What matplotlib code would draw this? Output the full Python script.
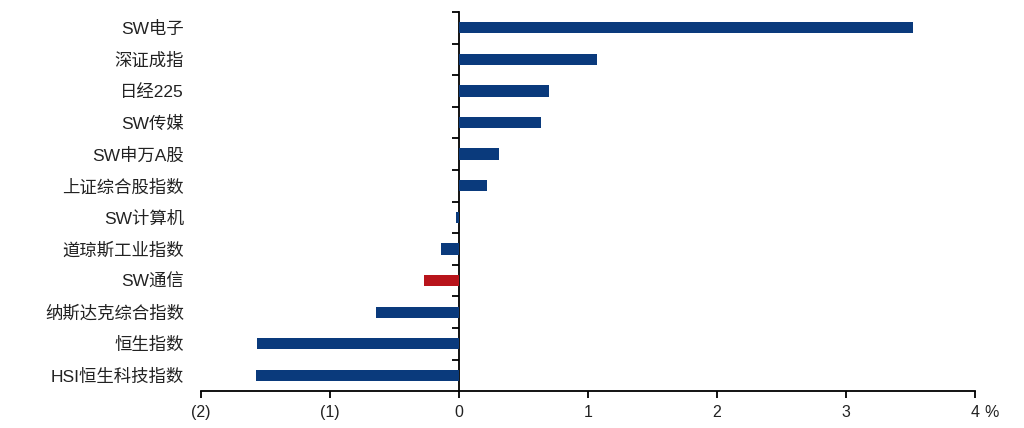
import numpy as np
import matplotlib.pyplot as plt

plt.rcParams['font.family'] = ['Liberation Sans', 'Noto Sans CJK SC', 'DejaVu Sans']

names = ['SW电子', '深证成指', '日经225', 'SW传媒', 'SW申万A股', '上证综合股指数',
         'SW计算机', '道琼斯工业指数', 'SW通信', '纳斯达克综合指数', '恒生指数', 'HSI恒生科技指数']
values = [3.52, 1.07, 0.70, 0.64, 0.31, 0.22, -0.02, -0.14, -0.27, -0.64, -1.56, -1.57]
highlight = 'SW通信'

xticks = [-2, -1, 0, 1, 2, 3, 4]
xticklabels = ['(2)', '(1)', '0', '1', '2', '3', '4']

blue = '#0A3A7C'
red = '#B8141B'

fig = plt.figure(figsize=(10.24, 4.28), dpi=100)
ax = fig.add_axes([0.196, 0.086, 0.756, 0.886])

y = np.arange(len(names))
colors = [red if n == highlight else blue for n in names]
ax.barh(y, values, height=0.36, color=colors, zorder=2)

ax.set_xlim(-2, 4)
ax.set_ylim(len(names) - 0.5, -0.5)

ax.set_yticks(y)
ax.set_yticklabels(names, fontsize=12.5, color='#222222')
ax.tick_params(axis='y', length=0, pad=12)

ax.set_xticks(xticks)
ax.set_xticklabels(xticklabels, fontsize=11.5, color='#222222')
ax.tick_params(axis='x', direction='out', length=5, width=1.3, pad=5)
ax.annotate('%', xy=(4, 0), xycoords=ax.get_xaxis_transform(),
            xytext=(7, -10), textcoords='offset points', fontsize=11.5,
            color='#222222', ha='left', va='top')

for s in ['top', 'right', 'left']:
    ax.spines[s].set_visible(False)
ax.spines['bottom'].set_linewidth(1.3)

# vertical axis through zero with ticks between categories
sec = ax.secondary_yaxis(2 / 6)
sec.set_yticks(np.arange(-0.5, len(names) - 0.5, 1.0))
sec.set_yticklabels([])
sec.tick_params(direction='out', length=5, width=1.3)
sec.spines['left'].set_linewidth(1.3)

fig.savefig('out.png', dpi=100)
